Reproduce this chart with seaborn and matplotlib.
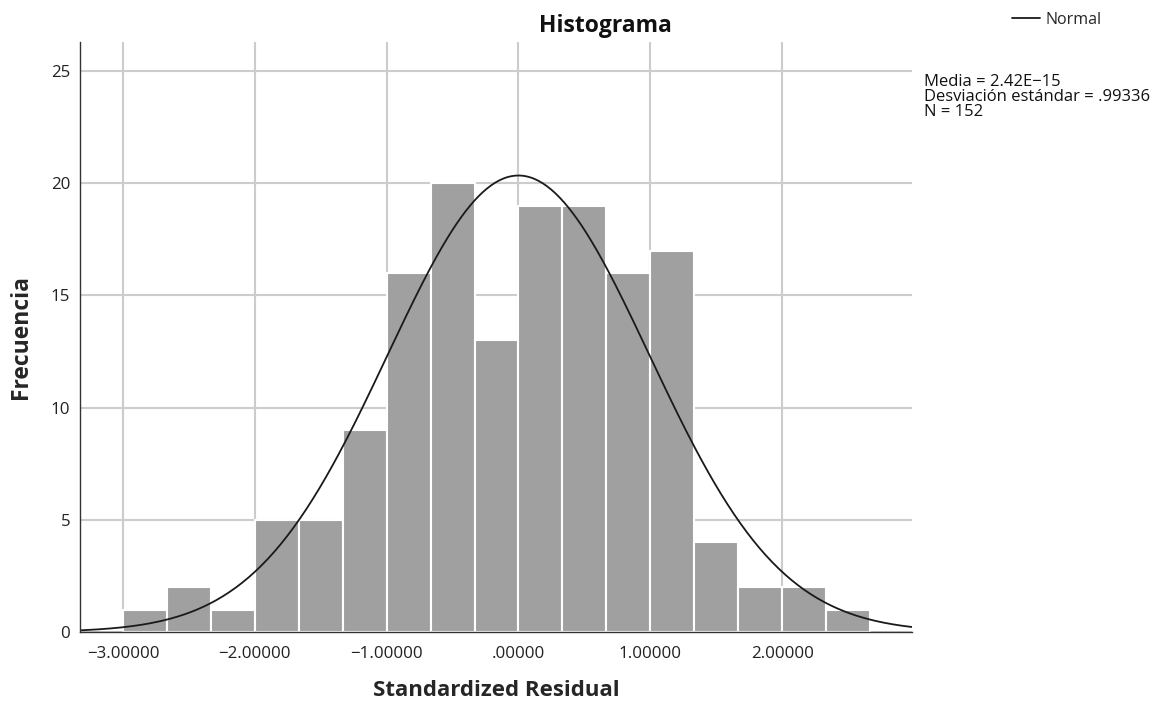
import numpy as np
import pandas as pd
import matplotlib
matplotlib.use("Agg")
import matplotlib.pyplot as plt
import seaborn as sns

# Data
bin_start = -3.0
bin_width = 1.0 / 3.0
counts = [1, 2, 1, 5, 5, 9, 16, 20, 13, 19, 19, 16, 17, 4, 2, 2, 1]
mean_val = 2.42e-15
sd_val = 0.99336
n_val = 152
x_ticks = [-3.0, -2.0, -1.0, 0.0, 1.0, 2.0]
x_tick_labels = ["\u22123.00000", "\u22122.00000", "\u22121.00000", ".00000", "1.00000", "2.00000"]
y_ticks = [0, 5, 10, 15, 20, 25]
stats_lines = ["Media = 2.42E\u221215", "Desviación estándar = .99336", "N = 152"]

sns.set_style("white")
plt.rcParams['font.family'] = ['Open Sans', 'DejaVu Sans']

edges = [float(v) for v in (bin_start + bin_width * np.arange(len(counts) + 1))]
centers = [(edges[i] + edges[i + 1]) / 2 for i in range(len(counts))]
df = pd.DataFrame({"resid": centers, "count": counts})

W, H = 1166, 702
fig = plt.figure(figsize=(W / 100, H / 100), dpi=100)
ax = fig.add_axes([80 / W, 1 - 632 / H, (912 - 80) / W, (632 - 42) / H])

ax.set_axisbelow(True)
ax.grid(True, color="#cccccc", linewidth=1.5)

sns.histplot(data=df, x="resid", weights="count", bins=edges, ax=ax,
             color="#a0a0a0", alpha=1.0, edgecolor="white", linewidth=1.5)

xs = np.linspace(-3.4, 3.1, 400)
ys = n_val * bin_width / (sd_val * np.sqrt(2 * np.pi)) * np.exp(-0.5 * ((xs - mean_val) / sd_val) ** 2)
line, = ax.plot(xs, ys, color="#1a1a1a", linewidth=1.3, label="Normal")

ax.set_xlim(-3.326, 2.985)
ax.set_ylim(0, 26.3)
ax.set_xticks(x_ticks)
ax.set_xticklabels(x_tick_labels)
ax.set_yticks(y_ticks)
ax.tick_params(axis="both", labelsize=12.2, length=0, colors="#222222")
ax.tick_params(axis="x", pad=10)
ax.tick_params(axis="y", pad=7)

for s in ["top", "right"]:
    ax.spines[s].set_visible(False)
for s in ["left", "bottom"]:
    ax.spines[s].set_color("#333333")
    ax.spines[s].set_linewidth(1.0)

ax.set_xlabel("Standardized Residual", fontsize=16, fontweight="bold")
ax.xaxis.label.set_va("center")
ax.xaxis.set_label_coords(0.5, (632 - 690) / 590)
ax.set_ylabel("Frecuencia", fontsize=16.5, fontweight="bold")
ax.yaxis.label.set_va("center")
ax.yaxis.set_label_coords((21 - 80) / 832, (632 - 337) / 590)

fig.text(605 / W, 1 - 26 / H, "Histograma", fontsize=16.5, fontweight="bold",
         ha="center", va="center", color="#111111")

fig.legend(handles=[line], labels=["Normal"], loc="center left",
           bbox_to_anchor=(1012 / W, 1 - 20 / H), frameon=False,
           fontsize=11.5, handlelength=1.75, handletextpad=0.35,
           borderpad=0, borderaxespad=0)

for i, txt in enumerate(stats_lines):
    fig.text(924 / W, 1 - (85.7 + 15 * i) / H, txt, fontsize=12,
             va="baseline", ha="left", color="#111111")

fig.savefig("out.png", dpi=100)
